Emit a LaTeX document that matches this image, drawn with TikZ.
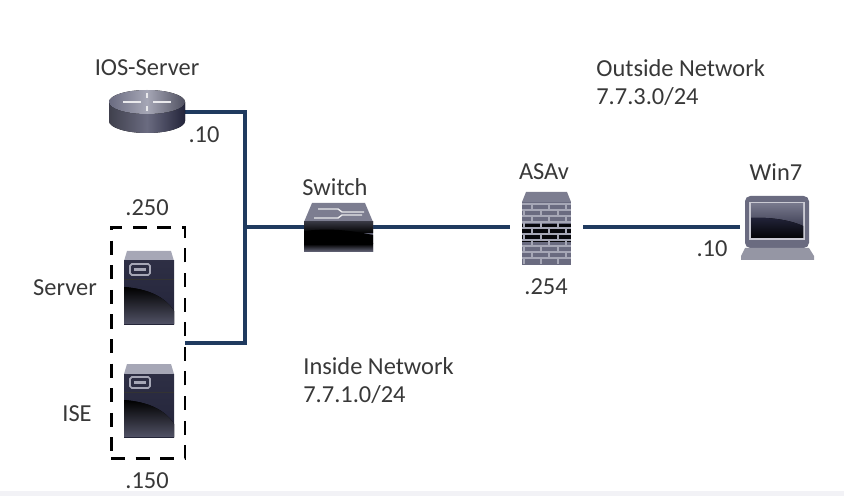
\documentclass[tikz,border=0pt]{standalone}
\usepackage{fontspec}
\setmainfont{Carlito}
\definecolor{netblue}{HTML}{1F3A5F}
\definecolor{icondark}{HTML}{23243A}
\definecolor{iconmid}{HTML}{6A6B80}
\definecolor{iconlight}{HTML}{A6A7B6}
\tikzset{
  netline/.style={draw=netblue, line width=1.8pt},
  iconbox/.style={inner sep=0pt, outer sep=0pt},
  dashbox/.style={draw=black, line width=1.7pt, dash pattern=on 8pt off 6pt, inner sep=0pt, outer sep=0pt, minimum width=1.48cm, minimum height=4.64cm},
  lbl/.style={font=\fontsize{13.9}{15}\selectfont, text=black!78, inner sep=0pt},
  lblleft/.style={lbl, anchor=west},
  servericon/.pic={
    \fill[iconlight] (-22,-36) -- (22,-36) -- (25,-26) -- (-25,-26) -- cycle;
    \fill[top color=icondark!85!iconmid, bottom color=icondark] (-25,-26) rectangle (25,37);
    \draw[black!80, line width=0.5pt] (-25,-8) -- (25,-8);
    \fill[top color=black, bottom color=icondark!65!iconlight] (-25,0) .. controls (0,2) and (16,10) .. (25,24) -- (25,37) -- (-25,37) -- cycle;
    \draw[iconlight, line width=1pt, rounded corners=1pt] (-19,-23) rectangle (1,-12);
    \fill[iconlight] (-15,-19) rectangle (-3,-16);
  }
}
\begin{document}
\begin{tikzpicture}[x=0.02cm,y=-0.02cm]
\useasboundingbox (0,0) rectangle (844,496);
\fill[blue!30!black!5] (0,491) rectangle (844,496);

% nodes for the devices
\node[iconbox, minimum width=1.52cm, minimum height=0.86cm] (router) at (147,112) {};
\node[dashbox] (serverbox) at (148,343) {};
\node[iconbox, minimum width=1.38cm, minimum height=0.98cm] (switch) at (338.5,227) {};
\node[iconbox, minimum width=1.46cm, minimum height=1.46cm] (asav) at (546.5,227) {};
\node[iconbox, minimum width=1.55cm, minimum height=1.32cm] (win7) at (778.5,227) {};
\coordinate (junction) at (245,227);

% connectors
\draw[netline] (router.east) -| (junction);
\draw[netline] (serverbox.east) -| (junction);
\draw[netline] (junction) -- (switch.west);
\draw[netline] (switch.east) -- (asav.west);
\draw[netline] (asav.east) -- (win7.west);

% router
\begin{scope}[shift={(147,0)}]
\fill[left color=iconmid!60!black, right color=icondark, middle color=iconmid] (-38,102) -- (-38,121) arc[start angle=180, end angle=0, x radius=38, y radius=12] -- (38,102) -- cycle;
\fill[left color=iconmid, right color=iconmid!75!black, middle color=iconlight] (0,102) ellipse[x radius=38, y radius=12];
\draw[white!85!iconmid, line width=1pt] (-24,102) -- (-6,102) (6,102) -- (24,102) (0,93) -- (0,98) (0,106) -- (0,111);
\end{scope}

% servers
\pic at (149,287) {servericon};
\pic at (149,400) {servericon};

% switch
\begin{scope}[shift={(304,203)}]
\fill[iconmid!70!iconlight] (8,0) -- (61,0) -- (69,19) -- (0,19) -- cycle;
\draw[white!85!iconmid, line width=0.8pt] (10,15) -- (34,15) -- (38,12) -- (58,12) (14,6) -- (34,6) -- (38,9) -- (60,9);
\fill[top color=iconmid, bottom color=iconmid!80!black] (0,19) rectangle (69,49);
\fill[top color=iconmid!50!black, bottom color=black] (0,19) rectangle (69,30);
\fill[black] (0,28) .. controls (25,25) and (45,27) .. (69,32) -- (69,41) -- (0,41) -- cycle;
\fill[top color=black, bottom color=iconmid] (0,41) rectangle (69,49);
\end{scope}

% firewall
\begin{scope}[shift={(522,192)}]
\fill[iconmid!70!iconlight] (4,0) -- (45,0) -- (49,10) -- (0,10) -- cycle;
\fill[iconmid] (0,10) rectangle (49,73);
\fill[black!80!icondark] (0,32) rectangle (49,50);
\foreach \y in {12,18,...,66} {\draw[iconlight, line width=0.9pt] (0,\y) -- (49,\y);}
\foreach \y in {12,24,...,60} {
  \foreach \x in {10,27,44} {\draw[iconlight, line width=0.9pt] (\x,\y) -- (\x,\y+6);}
}
\foreach \y in {18,30,...,66} {
  \foreach \x in {2,19,36} {\draw[iconlight, line width=0.9pt] (\x,\y) -- (\x,\y+6);}
}
\end{scope}

% laptop
\begin{scope}[shift={(745,196)}]
\fill[iconmid, rounded corners=3pt] (0,52) -- (0,0) -- (64,0) -- (64,52) -- cycle;
\fill[iconlight!60!white] (4,6) rectangle (60,44);
\fill[top color=iconmid!80!iconlight, bottom color=icondark] (6,8) rectangle (58,42);
\fill[top color=icondark, bottom color=black!90!icondark] (6,22) .. controls (25,21) and (45,24) .. (58,30) -- (58,42) -- (6,42) -- cycle;
\fill[iconlight!90!black] (0,52) -- (64,52) -- (69,60) -- (69,64) -- (-4,64) -- (-4,60) -- cycle;
\end{scope}

% labels
\node[lbl] (iosname) at (147,68) {IOS-Server};
\node[lbl] (iosip) at (204,135) {.10};
\node[lbl] (switchname) at (335,187) {Switch};
\node[lbl] (serverip) at (147,208) {.250};
\node[lbl] (servername) at (65,288) {Server};
\node[lbl] (isename) at (77,414) {ISE};
\node[lbl] (iseip) at (147,481) {.150};
\node[lbl] (asavname) at (544,172) {ASAv};
\node[lbl] (asavip) at (546,287) {.254};
\node[lbl] (winname) at (776,172) {Win7};
\node[lbl] (winip) at (712,249) {.10};
\node[lblleft] (outname) at (596,68) {Outside Network};
\node[lblleft] (outnet) at (596,97) {7.7.3.0/24};
\node[lblleft] (inname) at (303,366) {Inside Network};
\node[lblleft] (innet) at (303,395) {7.7.1.0/24};
\end{tikzpicture}
\end{document}
